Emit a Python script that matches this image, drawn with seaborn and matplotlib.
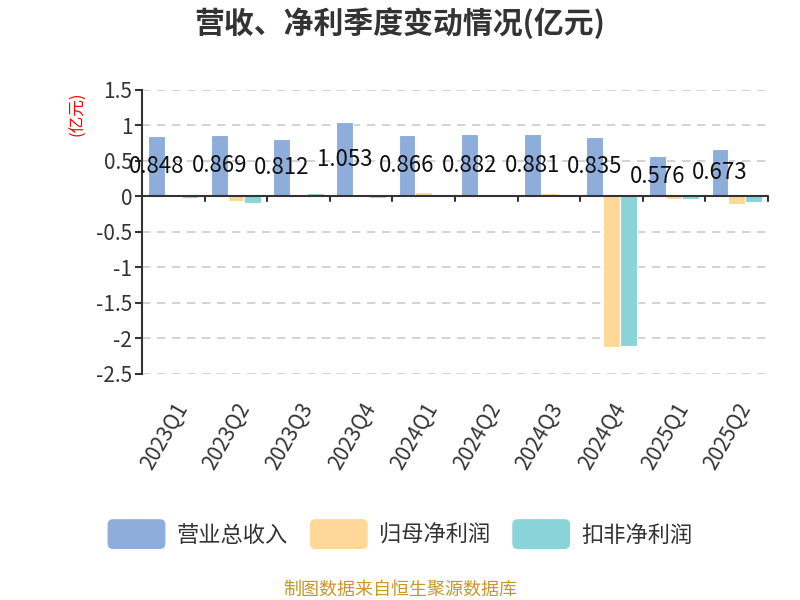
import numpy as np
import pandas as pd
import matplotlib
matplotlib.use('Agg')
import matplotlib.pyplot as plt
import seaborn as sns
from matplotlib.patches import FancyBboxPatch
from matplotlib.legend_handler import HandlerPatch

quarters = ['2023Q1', '2023Q2', '2023Q3', '2023Q4', '2024Q1',
            '2024Q2', '2024Q3', '2024Q4', '2025Q1', '2025Q2']
revenue = [0.848, 0.869, 0.812, 1.053, 0.866, 0.882, 0.881, 0.835, 0.576, 0.673]
net_profit = [0.004, -0.07, 0.004, -0.01, 0.06, 0.02, 0.045, -2.12, -0.03, -0.10]
net_profit_ex = [-0.02, -0.095, 0.048, -0.02, 0.01, 0.01, 0.035, -2.11, -0.04, -0.08]
series_names = ['营业总收入', '归母净利润', '扣非净利润']
colors = ['#8EADDB', '#FED898', '#88D4D8']

df = pd.DataFrame({
    'quarter': quarters * 3,
    'value': revenue + net_profit + net_profit_ex,
    'series': [s for s in series_names for _ in quarters],
})

sns.set_theme(style='white')
plt.rcParams['font.family'] = ['Noto Sans CJK SC', 'DejaVu Sans']
plt.rcParams['axes.unicode_minus'] = False

fig = plt.figure(figsize=(8, 6), dpi=100)
ax = fig.add_axes([0.1775, 0.3767, 0.7825, 0.4733])

sns.barplot(data=df, x='quarter', y='value', hue='series', palette=colors,
            hue_order=series_names, order=quarters, width=0.8, saturation=1,
            edgecolor='white', linewidth=0.8, legend=True, ax=ax)

ax.set_ylim(-2.5, 1.5)
ax.set_xlim(-0.5, len(quarters) - 0.5)
ax.set_yticks(np.arange(-2.5, 1.51, 0.5))
ax.set_yticklabels(['-2.5', '-2', '-1.5', '-1', '-0.5', '0', '0.5', '1', '1.5'])
for y in np.arange(-2.5, 1.51, 0.5):
    if abs(y) > 1e-9:
        ax.axhline(y, color='#cccccc', lw=1.2, ls=(0, (5, 4)), zorder=0)
ax.axhline(0, color='#333333', lw=1.5, zorder=3)

for s in ['top', 'right', 'bottom']:
    ax.spines[s].set_visible(False)
ax.spines['left'].set_color('#333333')
ax.spines['left'].set_linewidth(1.5)

ax.set_xlabel('')
ax.set_ylabel('')
ax.tick_params(axis='y', left=True, length=5, width=1.5, color='#333333',
               labelsize=15, labelcolor='#333333', pad=2)
ax.set_xticks(range(len(quarters)))
ax.set_xticklabels(quarters, rotation=60, ha='right', rotation_mode='anchor')
ax.tick_params(axis='x', bottom=False, labelsize=15, labelcolor='#333333', pad=12)

# boundary ticks on the zero line
for xb in np.arange(0.5, len(quarters) + 0.5, 1):
    ax.plot([xb, xb], [0, -0.07], color='#333333', lw=1.5, zorder=3, clip_on=False)

# value labels on revenue bars
rev_bars = ax.containers[0]
for bar, v in zip(rev_bars, revenue):
    cx = bar.get_x() + bar.get_width() / 2
    ax.text(cx, v / 2, f'{v:.3f}', ha='center', va='center', fontsize=16,
            color='#111111', zorder=5)

fig.text(0.0975, 0.81, '(亿元)', color='red', fontsize=12, rotation=90,
         ha='center', va='center')
fig.text(0.5, 0.962, '营收、净利季度变动情况(亿元)', ha='center', va='center',
         fontsize=21.5, fontweight='bold', color='#333333')
fig.text(0.5, 0.017, '制图数据来自恒生聚源数据库', ha='center', va='center',
         fontsize=13, color='#C8962A')


class RoundHandler(HandlerPatch):
    def create_artists(self, legend, orig_handle, xdescent, ydescent,
                       width, height, fontsize, trans):
        p = FancyBboxPatch((-xdescent, -ydescent - height * 0.25), width, height * 1.5,
                           boxstyle='round,pad=0,rounding_size=4',
                           facecolor=orig_handle.get_facecolor(), edgecolor='none',
                           transform=trans)
        return [p]


handles, labels = ax.get_legend_handles_labels()
ax.legend_.remove()
fig.legend(handles, labels, loc='center', bbox_to_anchor=(0.5, 0.108), ncol=3,
           frameon=False, fontsize=16, handlelength=2.6, handleheight=1.0,
           columnspacing=1.0, handletextpad=0.5, labelcolor='#333333',
           handler_map={h: RoundHandler() for h in handles})

fig.savefig('out.png', dpi=100)
